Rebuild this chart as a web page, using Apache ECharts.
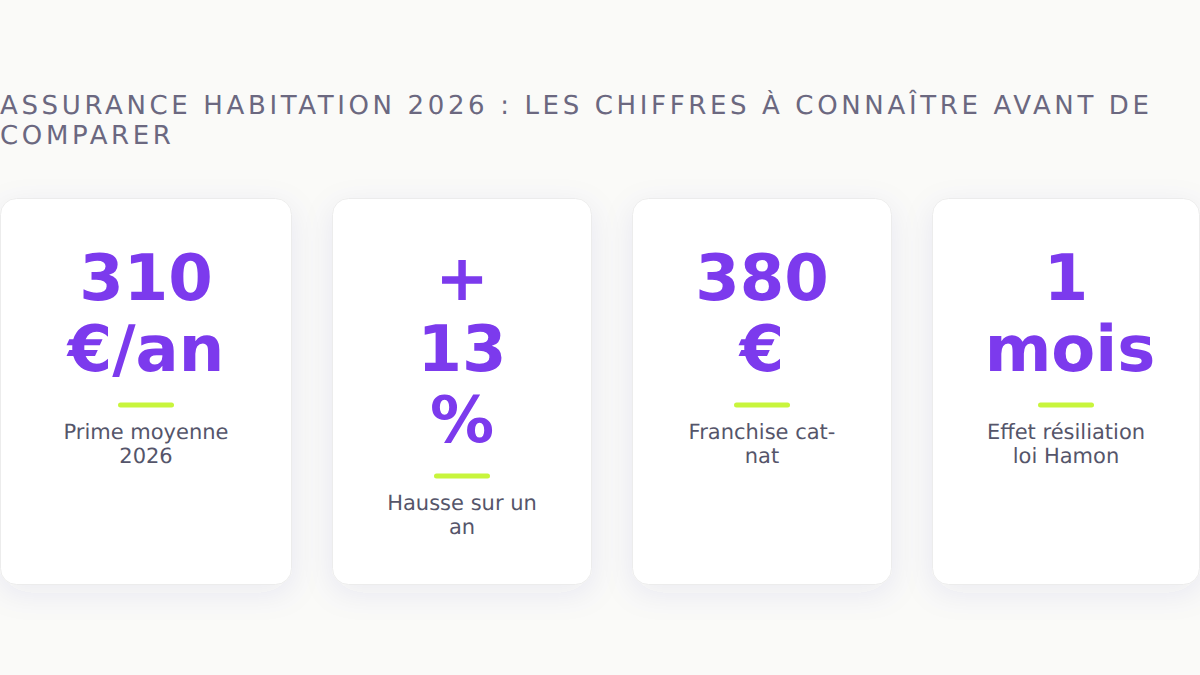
<!DOCTYPE html>
<html>
<head>
<meta charset="utf-8">
<style>
html, body { margin: 0; padding: 0; background: #fafaf8; }
#main { width: 1200px; height: 675px; }
#main svg text { text-rendering: geometricPrecision; }
</style>
<script src="https://cdn.jsdelivr.net/npm/echarts@6/dist/echarts.min.js"></script>
</head>
<body>
<div id="main"></div>
<script>
// textes du tableau
var titleLines = ['ASSURANCE HABITATION 2026 : LES CHIFFRES À CONNAÎTRE AVANT DE', 'COMPARER'];
var kpiValues = [['310', '€/an'], ['+', '13', '%'], ['380', '€'], ['1', 'mois']];
var kpiLabels = [['Prime moyenne', '2026'], ['Hausse sur un', 'an'], ['Franchise cat-', 'nat'], ['Effet résiliation', 'loi Hamon']];

// position des cartes
var cardLeft = [0.5, 332.5, 632.5, 932.5];
var cardRight = [291.5, 591.5, 891.5, 1199.5];
var cardTop = 198.5;
var cardBottom = 584.5;

var chart = echarts.init(document.getElementById('main'), null, { renderer: 'svg' });
var font = '"DejaVu Sans", sans-serif';
var elements = [];

titleLines.forEach(function (line, i) {
    elements.push({
        type: 'text', silent: true,
        style: { x: 0, y: 106 + i * 30, text: line, fill: '#6b6880', font: '26px ' + font, textAlign: 'left', textVerticalAlign: 'middle' }
    });
});

kpiValues.forEach(function (lines, k) {
    var cx = (cardLeft[k] + cardRight[k]) / 2;
    // carte
    elements.push({
        type: 'rect', silent: true,
        shape: { x: cardLeft[k], y: cardTop, width: cardRight[k] - cardLeft[k], height: cardBottom - cardTop, r: 16 },
        style: { fill: '#ffffff', stroke: '#ececec', lineWidth: 1, shadowBlur: 30, shadowOffsetY: 8, shadowColor: 'rgba(60,60,160,0.08)' }
    });
    // valeur
    lines.forEach(function (line, i) {
        // "mois" deborde de la colonne dans la carte 4
        var dx = line === 'mois' ? 4 : 0;
        elements.push({
            type: 'text', silent: true,
            style: { x: cx + dx, y: 279 + i * 71, text: line, fill: '#7c3aed', font: 'bold 64px ' + font, textAlign: 'center', textVerticalAlign: 'middle' }
        });
    });
    // trait
    var barY = 278 + (lines.length - 1) * 71 + 53.5;
    elements.push({
        type: 'rect', silent: true,
        shape: { x: cx - 28, y: barY, width: 56, height: 5, r: 3 },
        style: { fill: '#c8f53c' }
    });
    // libelle
    kpiLabels[k].forEach(function (line, i) {
        elements.push({
            type: 'text', silent: true,
            style: { x: cx, y: barY + 29.5 + i * 24, text: line, fill: '#55556a', font: '21px ' + font, textAlign: 'center', textVerticalAlign: 'middle' }
        });
    });
});

chart.setOption({
    backgroundColor: '#fafaf8',
    animation: false,
    graphic: { elements: elements }
});

// espacement des lettres du titre (rendu svg)
function spacing() {
    var nodes = document.querySelectorAll('#main svg text');
    nodes.forEach(function (n) {
        if (titleLines.indexOf(n.textContent) >= 0) n.style.letterSpacing = '3.64px';
    });
}
spacing();
chart.on('finished', spacing);
</script>
</body>
</html>
